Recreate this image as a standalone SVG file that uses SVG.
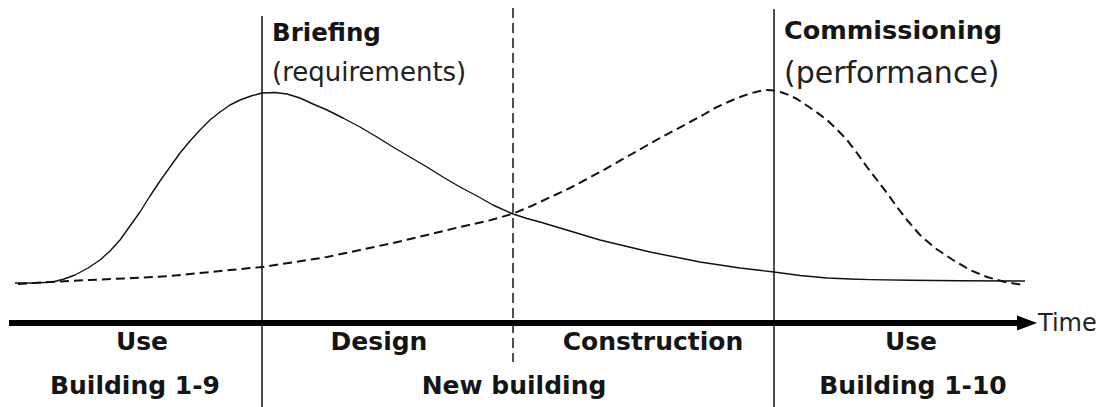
<svg xmlns="http://www.w3.org/2000/svg" width="1104" height="407" viewBox="0 0 1104 407">
<style>
.b{font-family:"DejaVu Sans",Verdana,sans-serif;font-weight:bold;font-size:25px;fill:#151515}
.n{font-family:"DejaVu Sans",Verdana,sans-serif;fill:#222}
.t{font-family:"DejaVu Sans",Verdana,sans-serif;font-size:24px;fill:#222}
.m{text-anchor:middle}
.v{stroke:#222;stroke-width:1.6;fill:none}
.c{fill:none;stroke:#111;stroke-width:1.4;stroke-linejoin:round}
.d{fill:none;stroke:#111;stroke-width:2;stroke-dasharray:9 5;stroke-linejoin:round}
</style>
<rect width="1104" height="407" fill="#fff"/>
<g id="connectors">
<line class="v" x1="262" y1="16" x2="262" y2="407"/>
<line class="v" x1="774" y1="9" x2="774" y2="407"/>
<line class="v" x1="513" y1="8" x2="513" y2="362" stroke-dasharray="10 5"/>
<polyline class="c" points="15,283 35,283 53,282 64,279 75,275 88,268 100,260 110,251 120,240 130,226 140,212 150,196 160,181 170,167 180,153 190,141 200,130 210,120 220,112 230,105 240,100 251,96 262,93 275,92.5 287,94 300,98 313,104 327,110 343,118 360,127 377,137 393,147 410,157 427,167 443,177 460,187 477,196 493,205 513,214 527,218.5 540,222 570,231 600,240 625,246 650,252 675,257 700,262 720,265 740,268 757,270 774,272 800,275.5 827,278 850,279 870,279.6 910,280.2 960,280.8 1025,281"/>
<polyline class="d" points="18,284 50,282 90,280 133,278 170,276 200,273 230,270 262,267 295,262 327,257 360,250 393,243 427,235 460,227 487,221 500,217.5 513,213.5 527,208 540,202 555,195 570,188 585,180 600,172 615,163.5 630,155 645,146.5 660,138 675,130 690,122 703,115 715,108 728,102 740,97 750,93.5 760,91 767,90 774,90.5 782,92.5 790,95.5 797,99 803,103 815,111 827,120 837,129.5 847,140 857,153 867,167 877,180 887,193 897,207 907,220 920,235 935,248 953,260 970,270 987,277 1005,282 1023,285"/>
<line x1="9" y1="323" x2="1022" y2="323" stroke="#000" stroke-width="6"/>
<polygon points="1017,315.5 1037,323 1017,330.5" fill="#000"/>
</g>
<g id="briefing">
<text class="b" x="272" y="41" style="font-size:24.5px">Briefing</text>
<text class="n" x="272" y="81" style="font-size:26px">(requirements)</text>
</g>
<g id="commissioning">
<text class="b" x="784" y="39" style="font-size:25.5px">Commissioning</text>
<text class="n" x="784" y="83" style="font-size:30px">(performance)</text>
</g>
<g id="time"><text class="t" x="1038" y="331">Time</text></g>
<g id="use1"><text class="b m" x="142" y="350">Use</text><text class="b m" x="135" y="394">Building 1-9</text></g>
<g id="design"><text class="b m" x="379" y="350">Design</text></g>
<g id="newbuilding"><text class="b m" x="514" y="394">New building</text></g>
<g id="construction"><text class="b m" x="653" y="350">Construction</text></g>
<g id="use2"><text class="b m" x="911" y="350">Use</text><text class="b m" x="913" y="394">Building 1-10</text></g>
</svg>
